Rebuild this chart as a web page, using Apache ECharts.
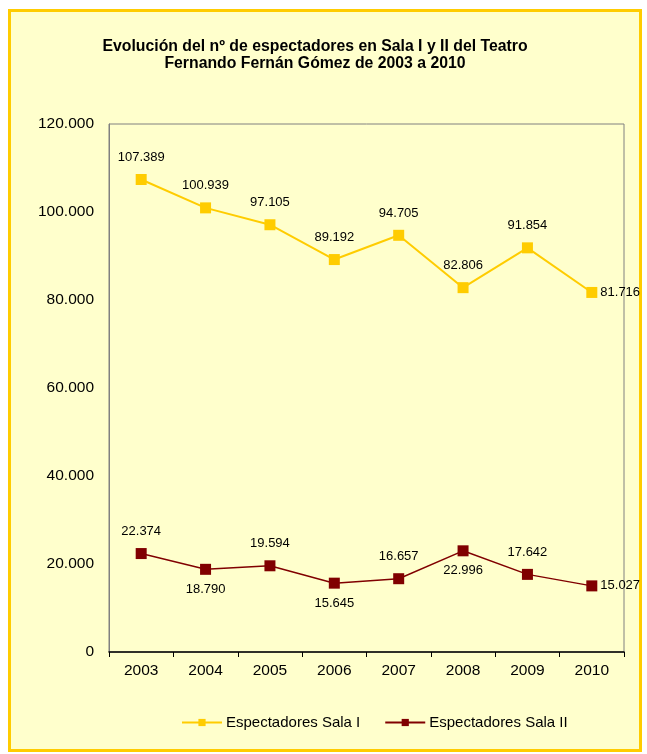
<!DOCTYPE html>
<html><head><meta charset="utf-8">
<script src="https://cdn.jsdelivr.net/npm/echarts@6/dist/echarts.min.js"></script>
<style>html,body{margin:0;padding:0;background:#fff}#c{width:647px;height:754px}</style>
</head><body><div id="c"></div>
<script>
const categories = ['2003','2004','2005','2006','2007','2008','2009','2010'];
const salaI = [107389, 100939, 97105, 89192, 94705, 82806, 91854, 81716];
const salaII = [22374, 18790, 19594, 15645, 16657, 22996, 17642, 15027];
const salaIIPos = ['top','bottom','top','bottom','top','bottom','top','right'];
const salaIPos = ['top','top','top','top','top','top','top','right'];
const yTicks = [0, 20000, 40000, 60000, 80000, 100000, 120000];

const fmt = v => v === 0 ? '0' : String(v).replace(/\B(?=(\d{3})+(?!\d))/g, '.');
const FF = 'Liberation Sans, Arial';
const lbl = {color:'#000', fontFamily:FF, fontSize:13};

function mk(vals, pos) {
  return vals.map((v,i) => ({value:v, label:{position:pos[i], distance: pos[i]==='right'?3:(pos[i]==='bottom'?8:10)}}));
}

const chart = echarts.init(document.getElementById('c'), null, {renderer:'canvas'});
chart.setOption({
  backgroundColor:'#fff',
  animation:false,
  graphic:[{type:'rect', z:-10, shape:{x:9.5, y:10.5, width:631, height:740}, style:{fill:'#FFFFCC', stroke:'#FFCC00', lineWidth:3}}],
  title:{text:'Evolución del nº de espectadores en Sala I y II del Teatro\nFernando Fernán Gómez de 2003 a 2010', left:310, textAlign:'center', top:33,
    textStyle:{fontFamily:FF, fontSize:15.8, fontWeight:'bold', color:'#000', lineHeight:17}},
  grid:{left:109, right:23, top:124, bottom:102, show:true, borderColor:'#808080', borderWidth:1, backgroundColor:'transparent'},
  legend:{top:710, left:176, itemGap:24, itemWidth:40, itemHeight:9,
    textStyle:{fontFamily:FF, fontSize:15, color:'#000', padding:[0,0,0,-1]},
    data:['Espectadores Sala I','Espectadores Sala II']},
  xAxis:{type:'category', data:categories, boundaryGap:true,
    axisLine:{lineStyle:{color:'#000', width:1.5}}, axisTick:{show:true, length:5, lineStyle:{color:'#000'}},
    axisLabel:{color:'#000', fontFamily:FF, fontSize:15.5, margin:11}},
  yAxis:{type:'value', min:0, max:120000, interval:20000, splitLine:{show:false},
    axisLine:{show:true, lineStyle:{color:'#808080'}}, axisTick:{show:false},
    axisLabel:{color:'#000', fontFamily:FF, fontSize:15.5, margin:15, formatter:v=>fmt(v)}},
  series:[
    {name:'Espectadores Sala I', type:'line', data:mk(salaI, salaIPos), symbol:'rect', symbolSize:11,
      itemStyle:{color:'#FFCC00'}, lineStyle:{color:'#FFCC00', width:2},
      label:{show:true, ...lbl, formatter:p=>fmt(p.value)}},
    {name:'Espectadores Sala II', type:'line', data:mk(salaII, salaIIPos), symbol:'rect', symbolSize:11,
      itemStyle:{color:'#800000'}, lineStyle:{color:'#800000', width:1.5},
      label:{show:true, ...lbl, formatter:p=>fmt(p.value)}}
  ]
});
</script></body></html>
